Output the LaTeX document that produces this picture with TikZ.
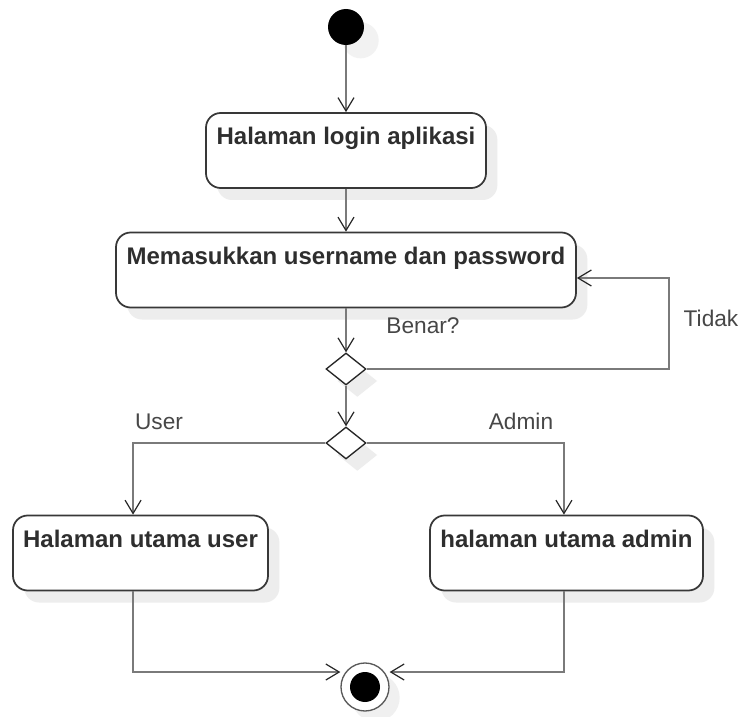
\documentclass[tikz,border=0pt]{standalone}
\usepackage{fontspec}
\setmainfont{Liberation Sans}
\usetikzlibrary{arrows.meta,shapes.geometric,shadows}
\begin{document}
\begin{tikzpicture}[x=0.75pt,y=-0.75pt,
  flow/.style={draw=black!52, line width=2pt,
    -{Straight Barb[length=10pt,width=12pt,color=black!85,line width=0.9pt]}},
  ushadow/.style={drop shadow={shadow xshift=8.5pt, shadow yshift=-9pt,
    fill=black!7, opacity=1}},
  activity/.style={rectangle, rounded corners=11pt, draw=black!78,
    line width=1.3pt, fill=white, ushadow, inner xsep=0pt, inner ysep=0pt,
    text height=24pt, text depth=32.25pt, minimum height=56.25pt,
    font=\bfseries\fontsize{18}{21}\selectfont, text=black!82},
  decision/.style={diamond, draw=black!85, line width=1pt, fill=white,
    ushadow, inner sep=0pt, minimum width=30pt, minimum height=24pt},
  guard/.style={font=\fontsize{17}{20}\selectfont, text=black!72},
]
\fill[white] (0,0) rectangle (744,717);
\useasboundingbox (0,0) rectangle (744,717);

% initial and final states
\node[circle, fill=black, minimum size=27pt, inner sep=0pt,
  drop shadow={shadow xshift=11pt, shadow yshift=-10pt, fill=black!5, opacity=1}]
  (start) at (346,27) {};
\node[circle, draw=black!65, line width=1pt, fill=white, minimum size=36pt,
  inner sep=0pt, drop shadow={shadow xshift=8pt, shadow yshift=-8pt, fill=black!6, opacity=1},
  path picture={\fill[black] (path picture bounding box.center) circle (11.25pt);}]
  (end) at (365,687) {};

% activities
\node[activity, minimum width=210pt] (b1) at (346,150.5) {Halaman login aplikasi};
\node[activity, minimum width=345pt] (b2) at (346,270) {Memasukkan username dan password};
\node[activity, minimum width=191.25pt] (b3) at (140.5,553) {Halaman utama user};
\node[activity, minimum width=204.75pt] (b4) at (566.5,553) {halaman utama admin};

% decisions
\node[decision] (d1) at (346,369) {};
\node[decision] (d2) at (346,443) {};

% guards
\node[guard] (benar) at (423,326) {Benar?};
\node[guard] (tidak) at (711,318) {Tidak};
\node[guard] (user) at (159,422) {User};
\node[guard] (admin) at (521,421) {Admin};

% flows
\draw[flow] (start) -- (b1);
\draw[flow] (b1) -- (b2);
\draw[flow] (b2) -- (d1);
\coordinate (loop) at (669,278);
\draw[flow] (d1.east) -| (loop) -- (b2.east |- loop);
\draw[flow] (d1) -- (d2);
\draw[flow] (d2.west) -| ([xshift=-5.6pt]b3.north);
\draw[flow] (d2.east) -| ([xshift=-1.9pt]b4.north);
\coordinate (endrow) at (365,672);
\draw[flow] ([xshift=-5.6pt]b3.south) |- (end.west |- endrow);
\draw[flow] ([xshift=-1.9pt]b4.south) |- (end.east |- endrow);
\end{tikzpicture}
\end{document}
